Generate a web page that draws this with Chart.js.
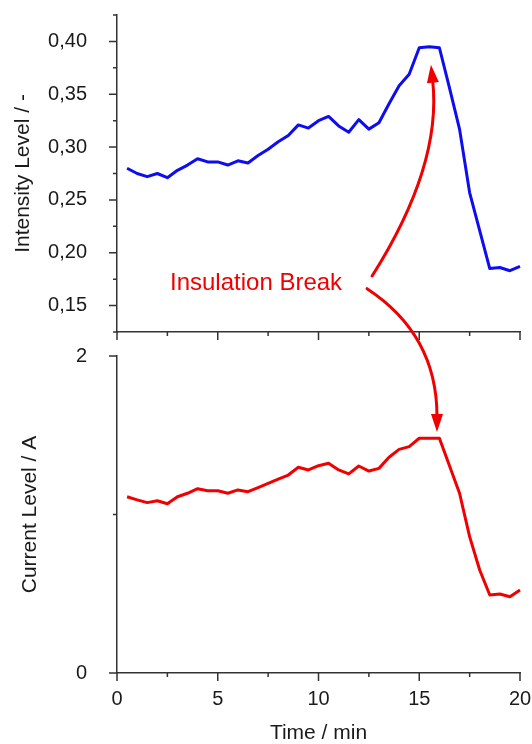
<!DOCTYPE html>
<html lang="en">
<head>
<meta charset="UTF-8">
<title>Insulation Break</title>
<script src="https://cdn.jsdelivr.net/npm/chart.js"></script>
<style>
    body { margin: 0; background: #fff; }
    #wrap { position: relative; width: 532px; height: 744px; }
    #topCanvas { position: absolute; left: 0; top: 0; }
    #bottomCanvas { position: absolute; left: 0; top: 340px; }
    #overlay { position: absolute; left: 0; top: 0; pointer-events: none; }
</style>
</head>
<body>
<div id="wrap">
    <canvas id="topCanvas" width="532" height="345"></canvas>
    <canvas id="bottomCanvas" width="532" height="404"></canvas>
    <canvas id="overlay" width="532" height="744"></canvas>
</div>
<script>
// time in minutes
const times = [0.5, 1, 1.5, 2, 2.5, 3, 3.5, 4, 4.5, 5, 5.5, 6, 6.5, 7, 7.5, 8, 8.5, 9, 9.5, 10,
               10.5, 11, 11.5, 12, 12.5, 13, 13.5, 14, 14.5, 15, 15.5, 16, 16.5, 17, 17.5, 18, 18.5, 19, 19.5, 20];
// intensity level (top plot)
const intensity = [0.280, 0.275, 0.272, 0.275, 0.271, 0.278, 0.283, 0.289, 0.286, 0.286,
                   0.283, 0.287, 0.285, 0.292, 0.298, 0.305, 0.311, 0.321, 0.318, 0.325,
                   0.329, 0.320, 0.314, 0.326, 0.317, 0.323, 0.341, 0.358, 0.369, 0.394,
                   0.395, 0.394, 0.356, 0.317, 0.257, 0.221, 0.185, 0.186, 0.183, 0.187];
// current level in A (bottom plot)
const current = [1.112, 1.092, 1.075, 1.087, 1.068, 1.112, 1.134, 1.163, 1.150, 1.150,
                 1.134, 1.155, 1.144, 1.170, 1.197, 1.223, 1.249, 1.298, 1.281, 1.308,
                 1.323, 1.281, 1.256, 1.306, 1.274, 1.291, 1.361, 1.411, 1.428, 1.481,
                 1.481, 1.481, 1.308, 1.134, 0.860, 0.650, 0.492, 0.498, 0.481, 0.524];

const xLabels = [0, 5, 10, 15, 20];
const intensityLabels = [0.15, 0.20, 0.25, 0.30, 0.35, 0.40];
const currentLabels = [0, 2];

const FONT = '"Liberation Sans", Arial, sans-serif';
const axisColor = '#333';
const textColor = '#1a1a1a';
const blue = '#0d0df0';
const red = '#f00000';

const isIn = (list, v) => list.some(l => Math.abs(l - v) < 1e-6);

// draws tick marks by hand so major and minor ones can have different lengths
const tickMarks = {
    id: 'tickMarks',
    afterDraw(chart) {
        const ctx = chart.ctx;
        const area = chart.chartArea;
        const xs = chart.scales.x, ys = chart.scales.y;
        const yMajor = chart.canvas.id === 'topCanvas' ? intensityLabels : currentLabels;
        ctx.save();
        ctx.strokeStyle = axisColor;
        ctx.lineWidth = 1.5;
        ctx.beginPath();
        xs.ticks.forEach(t => {
            const px = xs.getPixelForValue(t.value);
            const len = isIn(xLabels, t.value) ? 8 : 4;
            ctx.moveTo(px, area.bottom);
            ctx.lineTo(px, area.bottom + len);
        });
        ys.ticks.forEach(t => {
            const py = ys.getPixelForValue(t.value);
            const len = isIn(yMajor, t.value) ? 8 : 4;
            ctx.moveTo(area.left, py);
            ctx.lineTo(area.left - len, py);
        });
        ctx.stroke();
        ctx.restore();
    }
};

function lineData(values) {
    return times.map((t, i) => ({ x: t, y: values[i] }));
}

function makeChart(canvasId, values, color, yOpts, isBottom) {
    return new Chart(document.getElementById(canvasId), {
        type: 'line',
        data: {
            datasets: [{
                data: lineData(values),
                borderColor: color,
                borderWidth: 3,
                pointRadius: 0,
                tension: 0,
                borderJoinStyle: 'round',
                clip: false
            }]
        },
        options: {
            responsive: false,
            animation: false,
            layout: { padding: { top: isBottom ? 16 : 15, right: 12, left: 0, bottom: 0 } },
            plugins: { legend: { display: false }, tooltip: { enabled: false } },
            scales: {
                x: {
                    type: 'linear',
                    min: 0,
                    max: 20,
                    afterFit: s => {
                        s.height = isBottom ? 71 : 13;
                        s.paddingLeft = 0;
                        s.paddingRight = 0;
                    },
                    ticks: {
                        stepSize: 2.5,
                        padding: 14,
                        color: textColor,
                        font: { family: FONT, size: 20 },
                        maxRotation: 0,
                        autoSkip: false,
                        callback: v => (isBottom && isIn(xLabels, v)) ? String(v) : ''
                    },
                    grid: { display: false, drawTicks: false },
                    border: { display: true, color: axisColor, width: 1.5 },
                    title: {
                        display: isBottom,
                        text: 'Time / min',
                        color: textColor,
                        font: { family: FONT, size: 21, lineHeight: 1 },
                        padding: { top: 0, bottom: 0 }
                    }
                },
                y: Object.assign({
                    afterFit: s => {
                        s.width = 117;
                        s.paddingTop = 0;
                        s.paddingBottom = 0;
                    },
                    grid: { display: false, drawTicks: false },
                    border: { display: true, color: axisColor, width: 1.5 }
                }, yOpts)
            }
        },
        plugins: [tickMarks]
    });
}

const topChart = makeChart('topCanvas', intensity, blue, {
    min: 0.125,
    max: 0.425,
    ticks: {
        stepSize: 0.025,
        padding: 30,
        color: textColor,
        font: { family: FONT, size: 20 },
        autoSkip: false,
        callback: v => isIn(intensityLabels, v) ? v.toFixed(2).replace('.', ',') : ''
    },
    title: {
        display: true,
        text: 'Intensity Level / -',
        color: textColor,
        font: { family: FONT, size: 21 },
        padding: { top: 11, bottom: 0 }
    }
}, false);

const bottomChart = makeChart('bottomCanvas', current, red, {
    min: 0,
    max: 2,
    ticks: {
        stepSize: 1,
        padding: 30,
        color: textColor,
        font: { family: FONT, size: 20 },
        autoSkip: false,
        callback: v => isIn(currentLabels, v) ? String(v) : ''
    },
    title: {
        display: true,
        text: 'Current Level / A',
        color: textColor,
        font: { family: FONT, size: 21 },
        padding: { top: 17.5, bottom: 0 }
    }
}, true);

// annotation: text and two curved arrows, placed in data coordinates
const bottomOffset = 340;
function topPt(t, v) {
    return [topChart.scales.x.getPixelForValue(t), topChart.scales.y.getPixelForValue(v)];
}
function botPt(t, v) {
    return [bottomChart.scales.x.getPixelForValue(t), bottomChart.scales.y.getPixelForValue(v) + bottomOffset];
}

function curvedArrow(ctx, start, ctrl, tip) {
    const headLen = 18, headHalf = 6;
    let dx = tip[0] - ctrl[0], dy = tip[1] - ctrl[1];
    const d = Math.hypot(dx, dy);
    dx /= d; dy /= d;
    const base = [tip[0] - dx * headLen, tip[1] - dy * headLen];
    ctx.beginPath();
    ctx.moveTo(start[0], start[1]);
    ctx.quadraticCurveTo(ctrl[0], ctrl[1], base[0] + dx * 2, base[1] + dy * 2);
    ctx.stroke();
    ctx.beginPath();
    ctx.moveTo(tip[0], tip[1]);
    ctx.lineTo(base[0] - dy * headHalf, base[1] + dx * headHalf);
    ctx.lineTo(base[0] + dy * headHalf, base[1] - dx * headHalf);
    ctx.closePath();
    ctx.fill();
}

function drawAnnotation() {
    const ctx = document.getElementById('overlay').getContext('2d');
    ctx.strokeStyle = red;
    ctx.fillStyle = red;
    ctx.lineWidth = 3;
    ctx.lineCap = 'round';

    const label = topPt(2.63, 0.171);
    ctx.font = '24px ' + FONT;
    ctx.textAlign = 'left';
    ctx.textBaseline = 'middle';
    ctx.fillText('Insulation Break', label[0], label[1]);

    curvedArrow(ctx, topPt(12.66, 0.178), topPt(16.13, 0.2826), topPt(15.58, 0.378));
    curvedArrow(ctx, topPt(12.41, 0.166), topPt(15.88, 0.1225), botPt(15.88, 1.52));
}

drawAnnotation();
</script>
</body>
</html>
